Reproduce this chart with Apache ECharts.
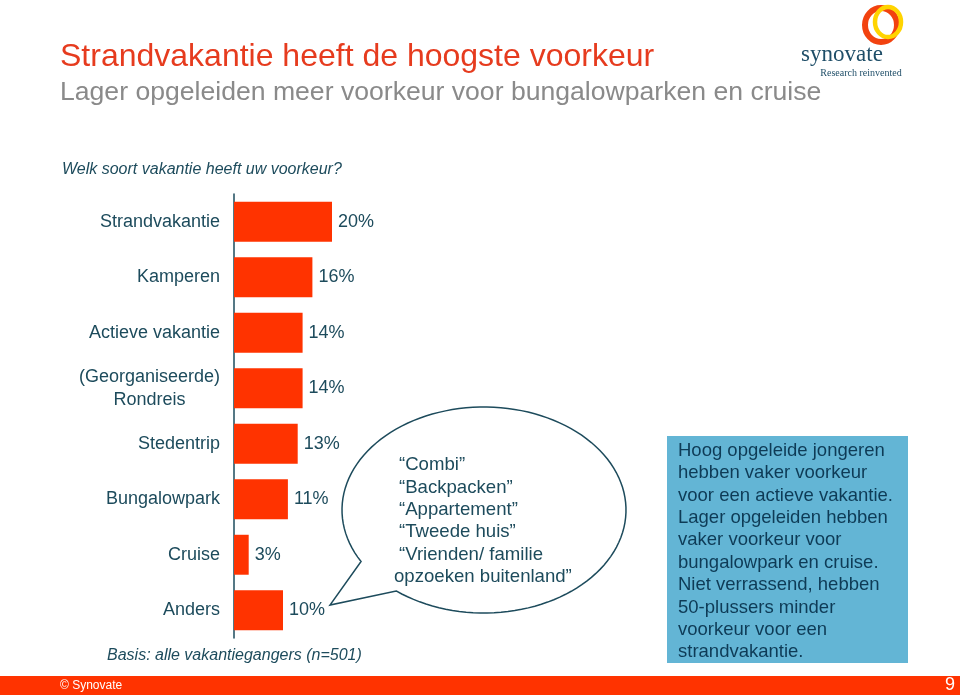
<!DOCTYPE html>
<html>
<head>
<meta charset="utf-8">
<script src="https://cdn.jsdelivr.net/npm/echarts@6/dist/echarts.min.js"></script>
<style>
html,body{margin:0;padding:0;background:#fff;}
#chart{width:960px;height:695px;}
</style>
</head>
<body>
<div id="chart"></div>
<script>
const categories = ['Strandvakantie','Kamperen','Actieve vakantie','(Georganiseerde)\nRondreis','Stedentrip','Bungalowpark','Cruise','Anders'];
const values = [20, 16, 14, 14, 13, 11, 3, 10];
const calloutLines = ['\u201CCombi\u201D','\u201CBackpacken\u201D','\u201CAppartement\u201D','\u201CTweede huis\u201D','\u201CVrienden/ familie','opzoeken buitenland\u201D'];
const boxLines = ['Hoog opgeleide jongeren','hebben vaker voorkeur','voor een actieve vakantie.','Lager opgeleiden hebben','vaker voorkeur voor','bungalowpark en cruise.','Niet verrassend, hebben','50-plussers minder','voorkeur voor een','strandvakantie.'];

const FONT = '"Liberation Sans", Arial, sans-serif';
const SERIF = '"Liberation Serif", "DejaVu Serif", serif';
const TEAL = '#1d4b5c';

// callout ellipse with tail
const cx = 484, cy = 510, rx = 142, ry = 103;
function angleOf(x, y){ return Math.atan2((y-cy)/ry, (x-cx)/rx); }
const a1 = angleOf(395, 592), a2 = angleOf(360, 562);
const pts = [];
let end = a2; while (end > a1 - 0.0001) end -= 2*Math.PI;
for (let i = 0; i <= 120; i++) {
  const t = a1 + (end - a1) * i / 120;
  pts.push([cx + rx*Math.cos(t), cy + ry*Math.sin(t)]);
}
pts.push([330, 605]);

const graphics = [
  {type:'text', x:60, y:57, style:{text:'Strandvakantie heeft de hoogste voorkeur', font:'32px '+FONT, fill:'#e63b1e', textVerticalAlign:'middle'}},
  {type:'text', x:60, y:93, style:{text:'Lager opgeleiden meer voorkeur voor bungalowparken en cruise', font:'26.6px '+FONT, fill:'#8a8a8a', textVerticalAlign:'middle'}},
  {type:'text', x:62, y:170, style:{text:'Welk soort vakantie heeft uw voorkeur?', font:'italic 16px '+FONT, fill:TEAL, textVerticalAlign:'middle'}},
  {type:'text', x:107, y:656, style:{text:'Basis: alle vakantiegangers (n=501)', font:'italic 16px '+FONT, fill:TEAL, textVerticalAlign:'middle'}},
  {type:'polygon', shape:{points:pts}, style:{fill:'#fff', stroke:'#1d4b5c', lineWidth:1.5}},
  {type:'group', children: calloutLines.map((t,i)=>({type:'text', x: i===5?394:399, y:465+i*22.4, style:{text:t, font:'18.6px '+FONT, fill:TEAL, textVerticalAlign:'middle'}}))},
  {type:'rect', shape:{x:667,y:436,width:241,height:227}, style:{fill:'#63b5d5'}},
  {type:'group', children: boxLines.map((t,i)=>({type:'text', x:678, y:451+i*22.35, style:{text:t, font:'18.5px '+FONT, fill:'#0e3b56', textVerticalAlign:'middle'}}))},
  {type:'rect', shape:{x:0,y:676,width:960,height:19}, style:{fill:'#ff3300'}},
  {type:'text', x:60, y:686, style:{text:'\u00A9 Synovate', font:'12px '+FONT, fill:'#fff', textVerticalAlign:'middle'}},
  {type:'text', x:955, y:685, style:{text:'9', font:'18px '+FONT, fill:'#fff', textAlign:'right', textVerticalAlign:'middle'}},
  // logo
  {type:'ellipse', shape:{cx:881,cy:25,rx:16,ry:17}, style:{fill:'none', stroke:'#f2420f', lineWidth:6}},
  {type:'ellipse', shape:{cx:888,cy:22,rx:13,ry:15}, style:{fill:'none', stroke:'#ffd400', lineWidth:4.5}},
  {type:'text', x:842, y:55, style:{text:'synovate', font:'23px '+SERIF, fill:'#1f4e68', textAlign:'center', textVerticalAlign:'middle'}},
  {type:'text', x:861, y:73, style:{text:'Research reinvented', font:'10px '+SERIF, fill:'#1f4e68', textAlign:'center', textVerticalAlign:'middle'}}
];

const chart = echarts.init(document.getElementById('chart'), null, {renderer:'canvas'});
chart.setOption({
  backgroundColor:'#fff',
  animation:false,
  grid:{left:234, top:194, width:245, height:444, containLabel:false},
  xAxis:{type:'value', min:0, max:50, show:false},
  yAxis:{
    type:'category', data:categories, inverse:true,
    axisLine:{show:true, lineStyle:{color:'#1d4b5c', width:1.5}},
    axisTick:{show:false},
    axisLabel:{
      margin:14, fontSize:18, fontFamily:FONT, color:TEAL, lineHeight:23,
      formatter: v => v.indexOf('\n')>=0 ? v.split('\n').map(s=>'{c|'+s+'}').join('\n') : v,
      rich:{c:{width:141, align:'center', fontSize:18, fontFamily:FONT, color:TEAL, lineHeight:23}}
    }
  },
  series:[{
    type:'bar', data:values, barCategoryGap:'28%',
    itemStyle:{color:'#ff3300'},
    label:{show:true, position:'right', distance:6, formatter:'{c}%', fontSize:18, fontFamily:FONT, color:TEAL}
  }],
  graphic:graphics
});
</script>
</body>
</html>
